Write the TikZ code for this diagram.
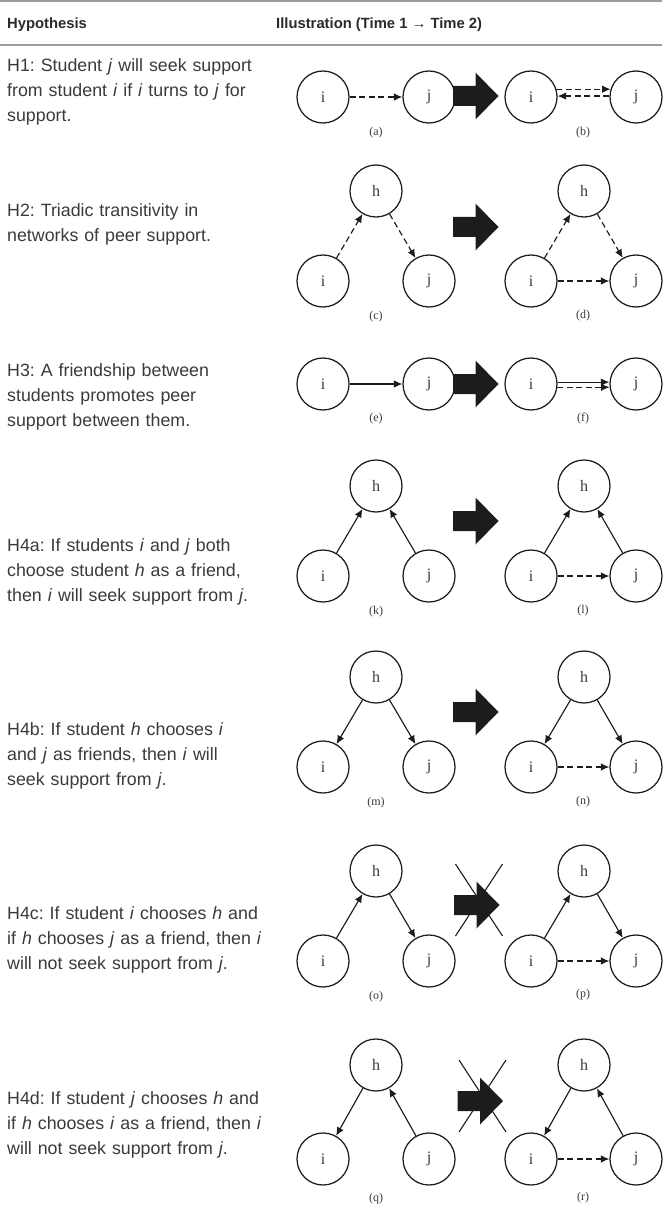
\documentclass[tikz,border=0pt]{standalone}
\usepackage{fontspec}
\setmainfont{Liberation Sans}
\newfontfamily\nodeserif{Liberation Serif}
\usetikzlibrary{arrows.meta}
\frenchspacing
\definecolor{txt}{HTML}{3A3A3A}
\definecolor{hdr}{HTML}{2A2A2A}
\definecolor{rulec}{HTML}{9C9C9C}
\definecolor{ink}{HTML}{1C1C1C}
\tikzset{
  hyp/.style={anchor=base west, text width=290pt, align=left, inner sep=0pt,
    font=\fontsize{17.8}{25}\selectfont, text=txt},
  hdrtext/.style={anchor=base west, inner sep=0pt, font=\bfseries\fontsize{14.8}{17}\selectfont, text=hdr},
  nd/.style={circle, draw=ink, line width=1.25pt, minimum size=52pt, inner sep=0pt,
    font=\nodeserif\fontsize{16}{16}\selectfont, text=txt},
  sublbl/.style={inner sep=0pt, font=\nodeserif\fontsize{12}{12}\selectfont, text=txt},
  ed/.style={draw=ink, line width=1.15pt, -{Latex[length=8.5pt,width=7.5pt]}},
  dsh/.style={ed, dash pattern=on 6pt off 3.5pt},
  bigarr/.pic={\fill[ink] (-22.5,-10) -- (0,-10) -- (0,-23.5) -- (23,0) -- (0,23.5) -- (0,10) -- (-22.5,10) -- cycle;},
  crossarr/.pic={\fill[ink] (-22.5,-10) -- (0,-10) -- (0,-23.5) -- (23,0) -- (0,23.5) -- (0,10) -- (-22.5,10) -- cycle;
     \draw[ink, line width=1.1pt] (-21,-41) -- (26,31) (26,-41) -- (-21,31);}
}
\begin{document}
\begin{tikzpicture}[x=1pt,y=-1pt]
\useasboundingbox (0,0) rectangle (662,1206);
% rules
\draw[rulec, line width=1.6pt] (0,1) -- (662,1);
\draw[rulec, line width=1.6pt] (0,45) -- (662,45);
% header
\node[hdrtext] (hh) at (7,29) {Hypothesis};
\node[hdrtext] (hi) at (276,29) {Illustration (Time 1 → Time 2)};
% hypotheses
\node[hyp] (t1) at (7,72) {H1: Student \textit{j} will seek support\\from student \textit{i} if \textit{i} turns to \textit{j} for\\support.};
\node[hyp] (t2) at (7,217) {H2: Triadic transitivity in\\networks of peer support.};
\node[hyp] (t3) at (7,376) {H3: A friendship between\\students promotes peer\\support between them.};
\node[hyp] (t4) at (7,551) {H4a: If students \textit{i} and \textit{j} both\\choose student \textit{h} as a friend,\\then \textit{i} will seek support from \textit{j}.};
\node[hyp] (t5) at (7,735) {H4b: If student \textit{h} chooses \textit{i}\\and \textit{j} as friends, then \textit{i} will\\seek support from \textit{j}.};
\node[hyp] (t6) at (7,919) {H4c: If student \textit{i} chooses \textit{h} and\\if \textit{h} chooses \textit{j} as a friend, then \textit{i}\\will not seek support from \textit{j}.};
\node[hyp] (t7) at (7,1104) {H4d: If student \textit{j} chooses \textit{h} and\\if \textit{h} chooses \textit{i} as a friend, then \textit{i}\\will not seek support from \textit{j}.};

% ---------- Row 1 ----------
\node[nd] (ai) at (323,97) {i};
\node[nd] (aj) at (429,97) {j};
\draw[dsh] (ai) -- (aj);
\pic at (475.5,96) {bigarr};
\node[nd] (bi) at (531,97) {i};
\node[nd] (bj) at (636,97) {j};
\draw[dsh] (bi.17) -- (bj.163);
\draw[dsh] (bj.178) -- (bi.2);
\node[sublbl] (la) at (376,133) {(a)};
\node[sublbl] (lb) at (583,133) {(b)};

% ---------- Row 2 ----------
\node[nd] (ch) at (376,191) {h};
\node[nd] (ci) at (323,281) {i};
\node[nd] (cj) at (429,281) {j};
\draw[dsh] (ci) -- (ch);
\draw[dsh] (ch) -- (cj);
\pic at (475.5,227) {bigarr};
\node[nd] (dh) at (584,191) {h};
\node[nd] (di) at (531,281) {i};
\node[nd] (dj) at (636,281) {j};
\draw[dsh] (di) -- (dh);
\draw[dsh] (dh) -- (dj);
\draw[dsh] (di) -- (dj);
\node[sublbl] (lc) at (376,317) {(c)};
\node[sublbl] (ld) at (583,316) {(d)};

% ---------- Row 3 ----------
\node[nd] (ei) at (323,384) {i};
\node[nd] (ej) at (429,384) {j};
\draw[ed] (ei) -- (ej);
\pic at (475.5,384) {bigarr};
\node[nd] (fi) at (531,384) {i};
\node[nd] (fj) at (636,384) {j};
\draw[ed] (fi.4) -- (fj.176);
\draw[dsh] (fi.-7) -- (fj.187);
\node[sublbl] (le) at (376,419) {(e)};
\node[sublbl] (lf) at (583,419) {(f)};

% ---------- Row 4 ----------
\node[nd] (kh) at (376,486) {h};
\node[nd] (ki) at (323,576) {i};
\node[nd] (kj) at (429,576) {j};
\draw[ed] (ki) -- (kh);
\draw[ed] (kj) -- (kh);
\pic at (475.5,521) {bigarr};
\node[nd] (lh) at (584,486) {h};
\node[nd] (li) at (531,576) {i};
\node[nd] (lj) at (636,576) {j};
\draw[ed] (li) -- (lh);
\draw[ed] (lj) -- (lh);
\draw[dsh] (li) -- (lj);
\node[sublbl] (lk) at (376,612) {(k)};
\node[sublbl] (ll) at (583,611) {(l)};

% ---------- Row 5 ----------
\node[nd] (mh) at (376,677) {h};
\node[nd] (mi) at (323,767) {i};
\node[nd] (mj) at (429,767) {j};
\draw[ed] (mh) -- (mi);
\draw[ed] (mh) -- (mj);
\pic at (475.5,712) {bigarr};
\node[nd] (nh) at (584,677) {h};
\node[nd] (ni) at (531,767) {i};
\node[nd] (nj) at (636,767) {j};
\draw[ed] (nh) -- (ni);
\draw[ed] (nh) -- (nj);
\draw[dsh] (ni) -- (nj);
\node[sublbl] (lm) at (376,803) {(m)};
\node[sublbl] (ln) at (583,802) {(n)};

% ---------- Row 6 ----------
\node[nd] (oh) at (376,871) {h};
\node[nd] (oi) at (323,961) {i};
\node[nd] (oj) at (429,961) {j};
\draw[ed] (oi) -- (oh);
\draw[ed] (oh) -- (oj);
\pic at (476.5,905) {crossarr};
\node[nd] (ph) at (584,871) {h};
\node[nd] (pi) at (531,961) {i};
\node[nd] (pj) at (636,961) {j};
\draw[ed] (pi) -- (ph);
\draw[ed] (ph) -- (pj);
\draw[dsh] (pi) -- (pj);
\node[sublbl] (lo) at (376,997) {(o)};
\node[sublbl] (lp) at (583,995) {(p)};

% ---------- Row 7 ----------
\node[nd] (qh) at (376,1065) {h};
\node[nd] (qi) at (323,1159) {i};
\node[nd] (qj) at (429,1159) {j};
\draw[ed] (qh) -- (qi);
\draw[ed] (qj) -- (qh);
\pic at (480,1101) {crossarr};
\node[nd] (rh) at (584,1065) {h};
\node[nd] (ri) at (531,1159) {i};
\node[nd] (rj) at (636,1159) {j};
\draw[ed] (rh) -- (ri);
\draw[ed] (rj) -- (rh);
\draw[dsh] (ri) -- (rj);
\node[sublbl] (lq) at (376,1199) {(q)};
\node[sublbl] (lr) at (583,1198) {(r)};
\end{tikzpicture}
\end{document}
